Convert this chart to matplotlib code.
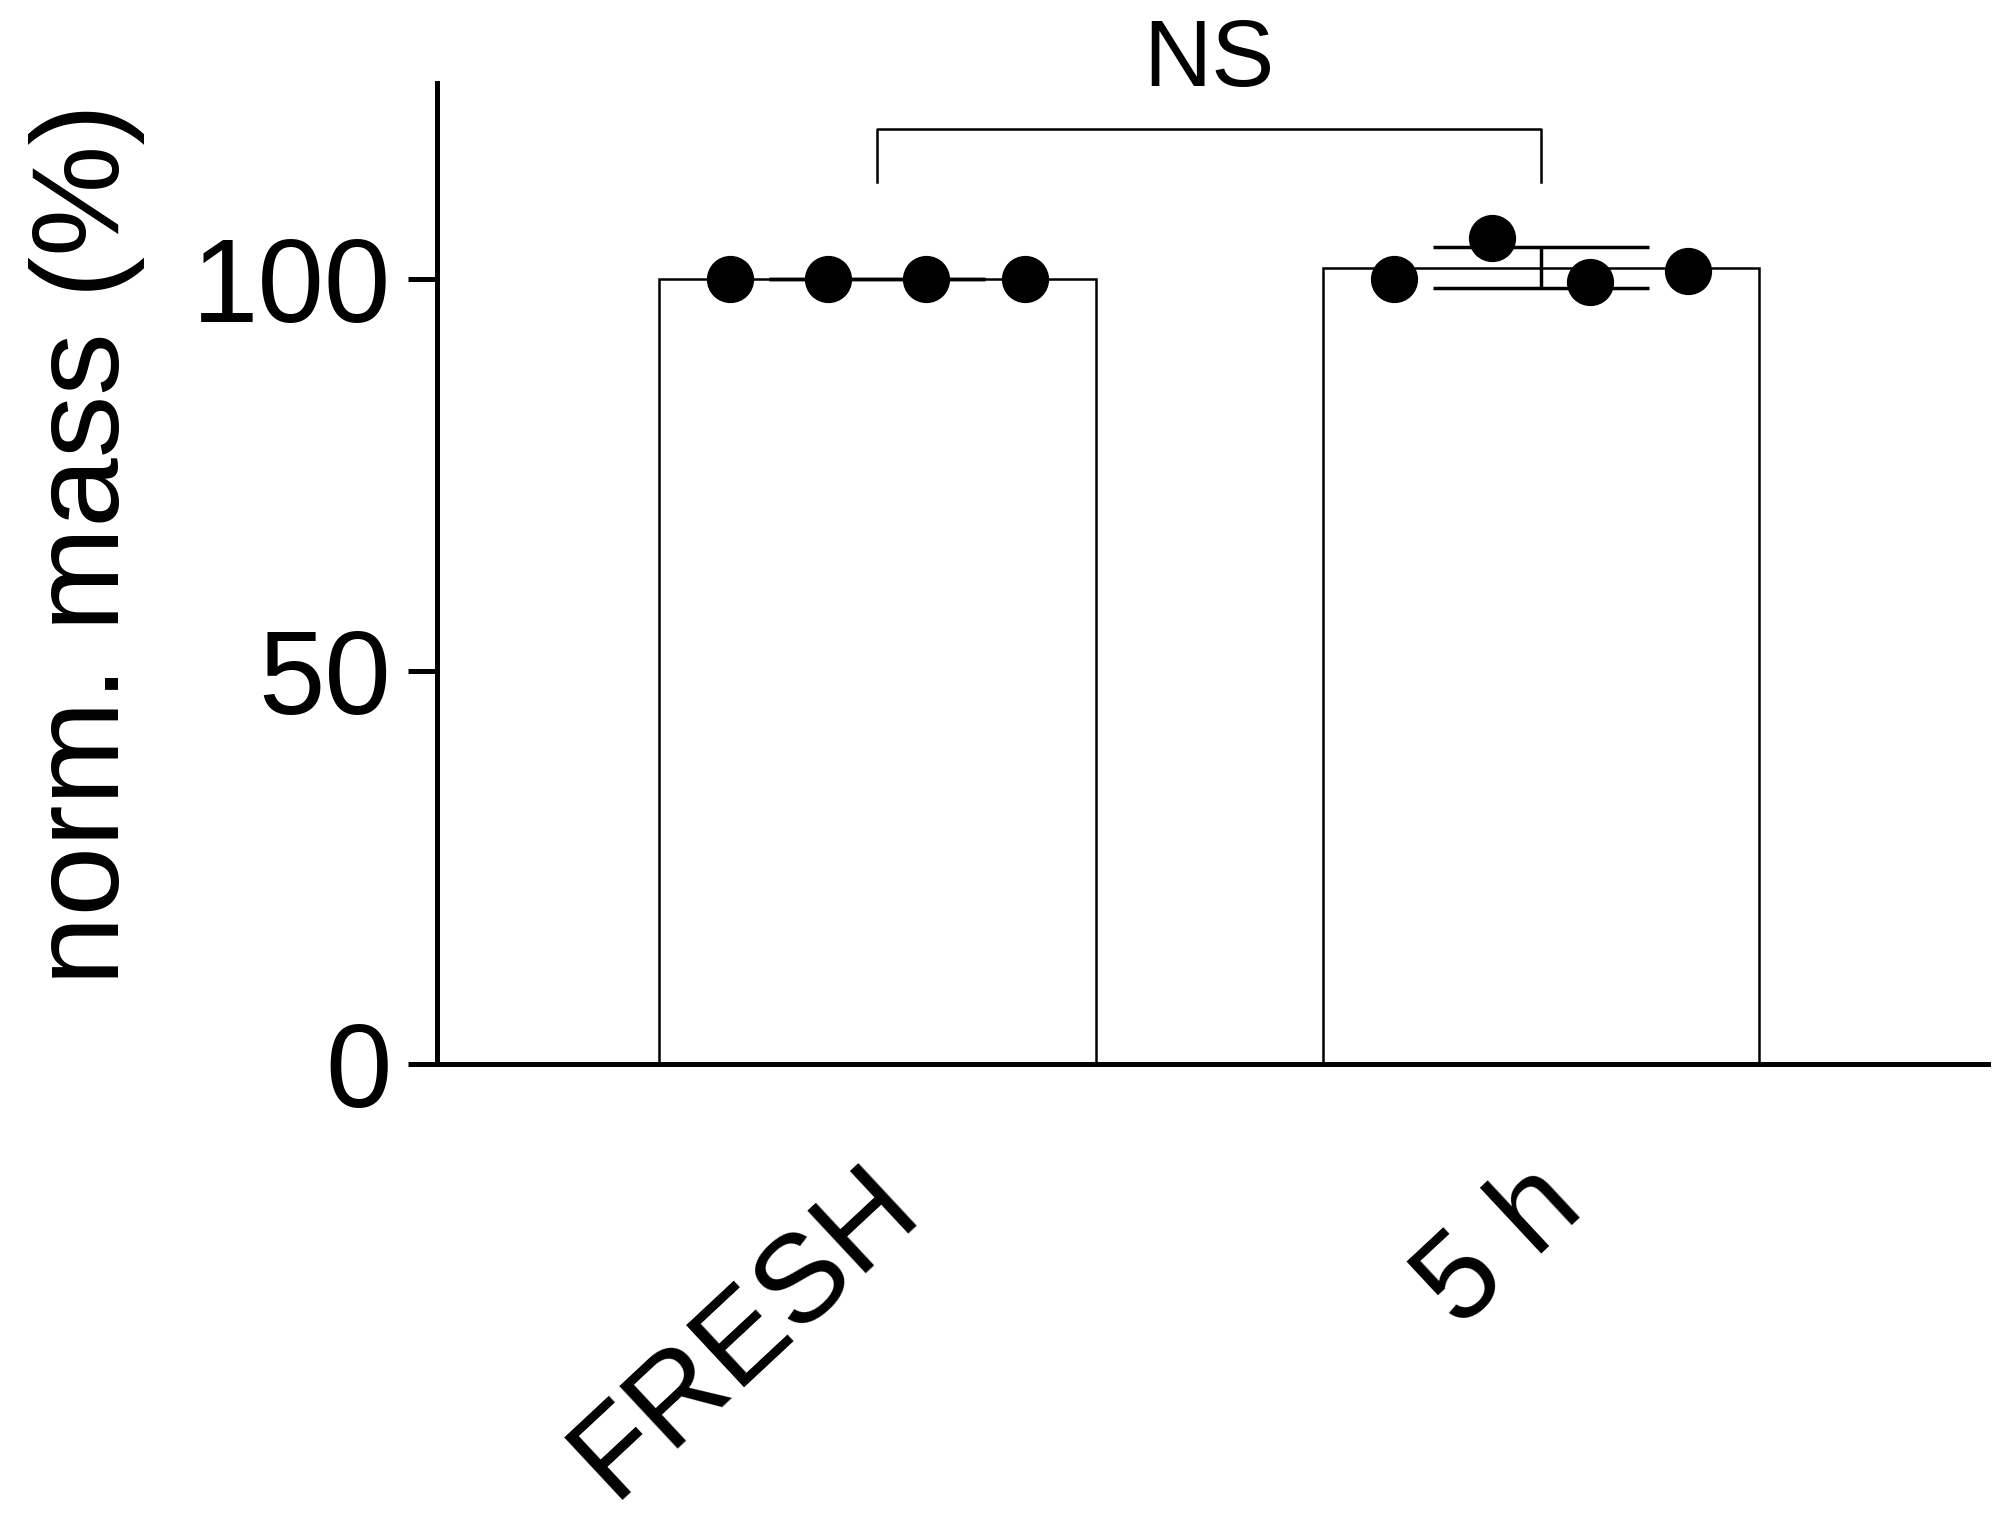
import numpy as np
import matplotlib
matplotlib.use("Agg")
import matplotlib.pyplot as plt
import matplotlib.transforms as mtransforms

plt.rcParams['font.family'] = ['Liberation Sans', 'DejaVu Sans']

# Datos
grupos = ["FRESH", "5 h"]
fresh = [100.0, 100.0, 100.0, 100.0]
cinco_h = [100.0, 105.2, 99.6, 101.0]
yticks = [0, 50, 100]
etiqueta_sig = "NS"

series = [fresh, cinco_h]
medias = [np.mean(s) for s in series]
desv = [np.std(s, ddof=1) for s in series]
desplaz = [-0.222, -0.074, 0.074, 0.222]

fig = plt.figure(figsize=(19.98, 15.33), dpi=100)
ax = fig.add_axes([0.2188, 0.306, 0.776, 0.640])

x = np.arange(len(grupos))
ax.bar(x, medias, width=0.658, color="white", edgecolor="black", linewidth=1.8, zorder=1)
ax.errorbar(x, medias, yerr=desv, fmt="none", ecolor="black", elinewidth=2.5,
            capsize=78, capthick=2.5, zorder=2)
for i, s in enumerate(series):
    ax.plot(x[i] + np.array(desplaz), s, "o", color="black", markersize=33, zorder=3)

# Corchete de significancia
ax.plot([0, 0, 1, 1], [112.3, 119.1, 119.1, 112.3], color="black", linewidth=1.8, clip_on=False)
ax.text(0.5, 124.6, etiqueta_sig, ha="center", va="baseline", fontsize=68, clip_on=False)

ax.set_xlim(-0.663, 1.673)
ax.set_ylim(0, 125)
ax.set_yticks(yticks)
ax.tick_params(axis="y", labelsize=86, length=21, width=3.6, pad=12)
ax.tick_params(axis="x", length=0, pad=0)
for lado in ["top", "right"]:
    ax.spines[lado].set_visible(False)
ax.spines["left"].set_linewidth(3.6)
ax.spines["bottom"].set_linewidth(3.6)

ax.set_xticks(x)
ax.set_xticklabels(grupos, rotation=43, ha="right", va="top", rotation_mode="anchor", fontsize=90)
desp = mtransforms.ScaledTranslation(-0.16, -0.82, fig.dpi_scale_trans)
for lab in ax.get_xticklabels():
    lab.set_transform(lab.get_transform() + desp)

fig.text(0.0434, 0.645, "norm. mass (%)", rotation=90, ha="center", va="center", fontsize=90)

fig.savefig("out.png", dpi=100)
